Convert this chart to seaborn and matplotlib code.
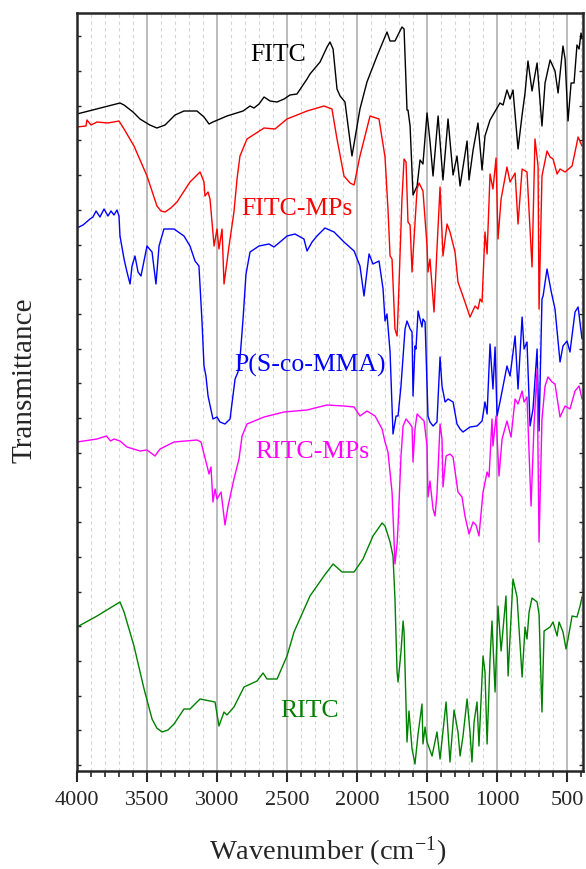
import numpy as np
import pandas as pd
import seaborn as sns
from matplotlib import pyplot as plt
from matplotlib.ticker import MultipleLocator

# FTIR spectra, wavenumber (cm-1) and transmittance (a.u., offset)
fitc_wn = [4000, 3693, 3664, 3600, 3550, 3480, 3429, 3371, 3300, 3236, 3143, 3093, 3057, 3029, 2929,
           2814, 2764, 2736, 2700, 2664, 2621, 2571, 2521, 2479, 2429, 2357, 2336, 2264, 2214, 2193,
           2171, 2143, 2121, 2086, 2036, 1979, 1929, 1857, 1786, 1764, 1729, 1679, 1664, 1643, 1636,
           1621, 1600, 1571, 1550, 1529, 1500, 1479, 1457, 1421, 1386, 1350, 1314, 1286, 1264, 1214,
           1200, 1171, 1136, 1107, 1086, 1050, 1000, 979, 957, 929, 907, 886, 850, 821, 800, 779, 750,
           714, 679, 657, 621, 586, 564, 529, 514, 493, 471, 450, 429, 414, 400, 393]
fitc_t = [65.7, 66.8, 66.6, 65.9, 65.2, 64.6, 64.3, 64.6, 65.6, 66.0, 66.0, 65.4, 64.7, 64.9, 65.5,
          66.0, 66.5, 66.3, 66.7, 67.4, 67.0, 66.9, 67.2, 67.6, 67.7, 69.2, 69.7, 70.9, 72.4, 72.9,
          72.2, 68.2, 67.5, 66.9, 61.5, 66.2, 68.9, 71.5, 73.9, 73.0, 73.0, 74.4, 74.2, 66.1, 66.1,
          64.5, 57.6, 58.5, 61.1, 60.7, 65.8, 63.0, 59.5, 65.5, 59.1, 65.2, 59.6, 61.5, 58.5, 63.0,
          59.1, 62.1, 64.8, 60.1, 63.5, 65.1, 66.3, 66.8, 66.6, 68.1, 67.2, 68.1, 62.2, 65.6, 67.8,
          71.0, 68.0, 70.8, 64.5, 68.8, 71.1, 70.0, 67.8, 72.5, 71.2, 65.0, 68.8, 68.8, 72.6, 72.2,
          73.8, 73.2]

fitc_mps_wn = [4000, 3936, 3929, 3900, 3857, 3780, 3700, 3664, 3593, 3500, 3429, 3400, 3371, 3330,
               3286, 3193, 3121, 3093, 3086, 3064, 3050, 3021, 3000, 2986, 2964, 2950, 2914, 2879,
               2857, 2836, 2786, 2664, 2586, 2500, 2357, 2236, 2179, 2143, 2093, 2050, 2021, 1979,
               1907, 1843, 1800, 1779, 1764, 1750, 1729, 1714, 1707, 1679, 1664, 1650, 1636, 1621,
               1607, 1593, 1571, 1557, 1529, 1500, 1493, 1479, 1450, 1429, 1407, 1386, 1357, 1336,
               1300, 1279, 1229, 1193, 1157, 1136, 1121, 1107, 1086, 1071, 1050, 1029, 1007, 993,
               971, 929, 907, 871, 850, 821, 786, 750, 729, 707, 700, 679, 643, 621, 600, 571, 550,
               514, 464, 443, 421, 393]
fitc_mps_t = [64.4, 64.5, 65.1, 64.6, 64.9, 64.8, 65.0, 64.2, 62.5, 59.5, 56.5, 56.0, 55.9, 56.3,
              56.9, 58.9, 59.9, 58.9, 57.5, 57.9, 57.2, 52.5, 54.2, 52.2, 54.2, 48.7, 52.5, 55.9,
              59.2, 61.5, 63.2, 64.3, 64.2, 65.2, 66.0, 66.5, 66.2, 63.2, 59.5, 58.8, 58.6, 61.5,
              65.5, 65.2, 61.4, 56.2, 51.5, 51.2, 44.2, 43.5, 45.9, 57.2, 61.2, 60.9, 54.9, 54.6,
              49.9, 53.2, 58.2, 58.8, 58.0, 52.5, 49.9, 51.2, 45.9, 52.2, 58.4, 51.5, 54.7, 53.9,
              51.9, 48.9, 46.9, 45.4, 46.5, 46.2, 47.2, 46.9, 53.9, 51.7, 59.7, 58.2, 61.3, 53.2,
              57.2, 60.4, 58.9, 59.8, 54.7, 60.2, 59.9, 50.4, 63.2, 60.5, 46.2, 59.5, 62.0, 61.4,
              61.2, 59.7, 60.2, 59.9, 60.5, 61.9, 63.4, 62.5]

pscomma_wn = [4000, 3957, 3907, 3886, 3864, 3836, 3807, 3779, 3757, 3736, 3714, 3700, 3693, 3664,
              3643, 3621, 3607, 3586, 3564, 3543, 3500, 3464, 3436, 3414, 3379, 3307, 3236, 3193,
              3157, 3129, 3107, 3093, 3079, 3064, 3029, 3000, 2979, 2943, 2907, 2871, 2850, 2836,
              2814, 2793, 2764, 2700, 2629, 2593, 2550, 2500, 2443, 2379, 2357, 2321, 2286, 2229,
              2164, 2093, 2021, 1979, 1950, 1914, 1886, 1843, 1814, 1800, 1786, 1764, 1743, 1721,
              1707, 1686, 1657, 1643, 1621, 1607, 1600, 1586, 1579, 1564, 1536, 1529, 1514, 1493,
              1479, 1457, 1429, 1407, 1393, 1371, 1350, 1314, 1286, 1264, 1243, 1193, 1143, 1107,
              1086, 1071, 1050, 1029, 1014, 1000, 979, 929, 907, 871, 850, 821, 807, 786, 764, 743,
              714, 700, 679, 671, 643, 614, 586, 550, 529, 500, 479, 443, 421, 393]
pscomma_t = [54.3, 54.6, 55.2, 55.4, 56.0, 55.4, 56.2, 55.5, 56.0, 55.6, 56.1, 55.5, 53.5, 51.2,
             49.9, 48.7, 50.5, 51.5, 49.9, 49.5, 52.5, 51.9, 48.7, 52.5, 54.2, 54.2, 53.5, 52.5,
             51.0, 50.5, 44.9, 40.5, 39.5, 37.5, 35.2, 35.4, 34.9, 34.7, 35.2, 39.2, 39.9, 41.2,
             45.2, 49.7, 51.9, 52.5, 52.7, 52.4, 52.9, 53.5, 53.7, 53.2, 52.0, 52.9, 53.5, 54.3,
             53.9, 52.9, 52.0, 50.5, 47.5, 51.7, 50.7, 51.0, 48.2, 45.0, 45.7, 41.9, 33.7, 35.5,
             35.5, 38.5, 44.2, 45.0, 44.2, 43.9, 37.5, 42.5, 42.2, 46.0, 44.4, 45.2, 44.9, 35.5,
             34.9, 34.5, 34.9, 41.4, 38.5, 36.9, 37.2, 36.9, 34.7, 34.2, 33.9, 34.4, 34.5, 35.0,
             36.9, 35.7, 42.7, 38.2, 42.4, 35.5, 36.9, 40.5, 39.5, 43.5, 38.2, 45.4, 42.2, 42.9, 34.5,
             36.2, 42.2, 34.0, 47.2, 47.5, 50.2, 48.0, 46.2, 40.9, 42.5, 43.0, 41.9, 45.9, 46.4, 43.2]

ritc_mps_wn = [4000, 3857, 3790, 3760, 3736, 3693, 3643, 3550, 3500, 3443, 3407, 3307, 3143, 3114,
               3093, 3071, 3057, 3043, 3029, 3014, 3000, 2971, 2943, 2921, 2879, 2843, 2821, 2786,
               2664, 2521, 2357, 2214, 2093, 2021, 1979, 1929, 1871, 1821, 1800, 1779, 1750, 1736,
               1729, 1714, 1707, 1686, 1671, 1650, 1621, 1607, 1600, 1586, 1571, 1536, 1521, 1500,
               1493, 1479, 1457, 1443, 1429, 1407, 1393, 1386, 1364, 1336, 1314, 1279, 1250, 1229,
               1200, 1171, 1150, 1129, 1100, 1071, 1057, 1036, 1029, 1007, 986, 964, 929, 900, 871,
               850, 821, 807, 786, 757, 736, 714, 700, 679, 657, 636, 607, 586, 550, 514, 479, 443,
               414, 393]
ritc_mps_t = [32.9, 33.2, 33.5, 33.0, 33.2, 33.0, 32.4, 32.0, 32.1, 31.5, 32.2, 32.9, 33.1, 32.9,
              31.7, 30.5, 29.7, 30.4, 26.9, 28.2, 27.2, 27.9, 24.6, 26.5, 29.2, 31.2, 33.5, 34.7,
              35.4, 35.9, 36.1, 36.6, 36.5, 36.4, 35.5, 36.0, 35.5, 34.2, 32.9, 31.9, 27.9, 23.2,
              20.7, 22.7, 24.5, 31.5, 34.5, 35.2, 34.7, 34.4, 30.9, 34.2, 35.7, 35.2, 35.0, 32.5,
              27.4, 29.0, 26.2, 25.5, 27.7, 34.7, 33.2, 28.4, 31.5, 31.7, 31.4, 27.9, 27.4, 25.5,
              23.7, 24.9, 24.6, 23.5, 27.9, 29.9, 29.4, 35.2, 32.5, 35.5, 29.5, 33.2, 35.0, 33.4, 37.2,
              36.7, 38.0, 36.9, 37.4, 26.5, 34.5, 40.2, 22.9, 35.2, 38.5, 39.4, 38.9, 38.7, 35.4, 36.5,
              36.2, 38.0, 38.5, 37.2]

ritc_wn = [4000, 3857, 3693, 3664, 3593, 3521, 3464, 3430, 3393, 3350, 3307, 3236, 3193, 3121, 3050,
           3014, 2986, 2950, 2929, 2879, 2807, 2714, 2671, 2643, 2571, 2500, 2450, 2336, 2236, 2171,
           2107, 2021, 1957, 1886, 1821, 1800, 1764, 1743, 1729, 1714, 1707, 1686, 1671, 1664,
           1643, 1629, 1607, 1586, 1564, 1536, 1529, 1514, 1500, 1464, 1429, 1407, 1364, 1336,
           1307, 1279, 1264, 1243, 1214, 1193, 1179, 1164, 1143, 1129, 1100, 1086, 1071, 1050,
           1036, 1014, 993, 971, 936, 921, 886, 857, 821, 800, 786, 771, 750, 714, 700, 679, 664,
           621, 600, 571, 557, 529, 507, 493, 464, 429, 407, 393]
ritc_t = [14.4, 15.5, 16.9, 15.9, 12.5, 8.2, 5.2, 4.3, 3.9, 4.1, 4.7, 6.2, 6.2, 7.2, 7.0,
          6.9, 4.5, 5.9, 5.6, 6.4, 8.4, 9.0, 9.8, 9.2, 9.2, 11.5, 13.9, 17.5, 19.5, 20.7,
          19.9, 19.9, 21.2, 23.5, 24.8, 24.5, 22.9, 21.5, 17.2, 9.9, 8.9, 11.9, 15.0, 13.9,
          2.9, 6.0, 2.2, 0.7, 3.7, 6.7, 2.7, 4.4, 2.9, 1.5, 3.9, 1.2, 6.9, 0.9,
          6.1, 3.9, 1.5, 3.5, 7.2, 3.9, 0.9, 4.9, 6.9, 2.5, 11.5, 9.9, 2.7, 11.2,
          15.0, 7.9, 16.5, 12.0, 17.5, 9.5, 19.2, 17.4, 9.4, 14.4, 13.2, 15.9, 17.3, 16.9, 15.7,
          5.9, 14.0, 14.4, 14.9, 13.5, 14.9, 13.9, 12.2, 13.2, 15.5, 15.4, 16.5, 17.4]

names = ["FITC", "FITC-MPs", "P(S-co-MMA)", "RITC-MPs", "RITC"]
colors = ["black", "#ff0000", "#0000ff", "#ff00ff", "#008000"]
spectra = [(fitc_wn, fitc_t), (fitc_mps_wn, fitc_mps_t), (pscomma_wn, pscomma_t),
           (ritc_mps_wn, ritc_mps_t), (ritc_wn, ritc_t)]
label_pos = [(2564, 71.1), (2429, 55.7), (2336, 40.0), (2321, 31.4), (2336, 5.5)]

sns.set_style("ticks")
plt.rcParams['font.family'] = ['Liberation Serif', 'DejaVu Serif']
plt.rcParams['mathtext.fontset'] = 'custom'
plt.rcParams['mathtext.rm'] = 'Liberation Serif'
plt.rcParams['mathtext.default'] = 'regular'

fig = plt.figure(figsize=(5.86, 8.70), dpi=100)
ax = fig.add_axes([77 / 586, 1 - 772 / 870, 506 / 586, 758 / 870])

for name, col, (wn, t), (lx, ly) in zip(names, colors, spectra, label_pos):
    df = pd.DataFrame({"Wavenumber": wn, "T": t})
    sns.lineplot(x="Wavenumber", y="T", data=df, color=col, lw=1.0,
                 estimator=None, sort=False, ax=ax)
    ax.text(lx, ly, name, color=col, fontsize=18.5, ha="center", va="baseline")

ax.set_xlim(4000, 386)
ax.set_ylim(0, 75.8)
ax.set_xticks([4000, 3500, 3000, 2500, 2000, 1500, 1000, 500])
ax.xaxis.set_minor_locator(MultipleLocator(100))
ax.set_yticks(np.arange(0.6, 75.8, 3.47))
ax.set_yticklabels([])
ax.grid(which="major", axis="x", color="#a8a8a8", lw=1.1)
ax.grid(which="minor", axis="x", color="#d4d4d4", lw=0.8, ls=(0, (3, 3)))
ax.set_axisbelow(True)

ax.tick_params(axis="x", which="major", direction="out", length=8, width=1.5,
               labelsize=16, pad=6)
ax.tick_params(axis="x", which="minor", direction="out", length=4, width=1.2)
ax.tick_params(axis="y", which="major", direction="in", length=3, width=1.0,
               left=True, right=True)
for s in ax.spines.values():
    s.set_linewidth(1.8)

ax.set_xlabel("")
ax.set_ylabel("")
fig.text(328 / 586, 1 - 860 / 870, "Wavenumber (cm$^{-1}$)", fontsize=20.5,
         ha="center", va="baseline")
fig.text(25 / 586, 1 - 380 / 870, "Transmittance", fontsize=21, rotation=90,
         ha="center", va="center")

fig.savefig("out.png", dpi=100)
